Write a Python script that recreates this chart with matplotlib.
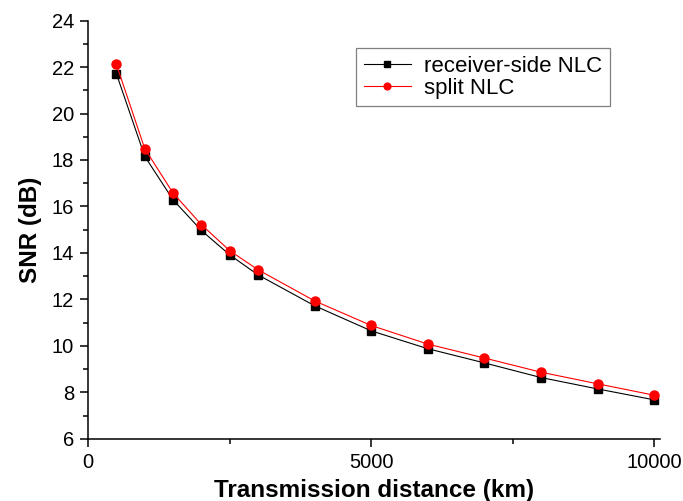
import numpy as np
import matplotlib
matplotlib.use("Agg")
from matplotlib import pyplot as plt
from matplotlib.ticker import MultipleLocator

plt.rcParams['font.family'] = ['Liberation Sans', 'DejaVu Sans']

# DATA
distance_km = [500, 1000, 1500, 2000, 2500, 3000, 4000, 5000, 6000, 7000, 8000, 9000, 10000]
snr_receiver = [21.71, 18.16, 16.29, 14.97, 13.92, 13.06, 11.73, 10.65, 9.88, 9.27, 8.64, 8.15, 7.68]
snr_split = [22.11, 18.49, 16.58, 15.22, 14.10, 13.28, 11.94, 10.88, 10.08, 9.48, 8.87, 8.37, 7.88]

fig = plt.figure(figsize=(6.83, 5.01), dpi=100)
ax = fig.add_axes([0.129, 0.124, 0.837, 0.835])

ax.plot(distance_km, snr_receiver, color='black', lw=0.8, marker='s',
        markersize=6, label='receiver-side NLC')
ax.plot(distance_km, snr_split, color='red', lw=0.8, marker='o',
        markersize=6.5, label='split NLC')

ax.set_xlim(0, 10100)
ax.set_ylim(6, 24)
ax.xaxis.set_major_locator(MultipleLocator(5000))
ax.xaxis.set_minor_locator(MultipleLocator(2500))
ax.yaxis.set_major_locator(MultipleLocator(2))
ax.yaxis.set_minor_locator(MultipleLocator(1))

# only left and bottom axis lines
ax.spines['top'].set_visible(False)
ax.spines['right'].set_visible(False)
for s in ('left', 'bottom'):
    ax.spines[s].set_linewidth(1.1)

ax.tick_params(which='major', direction='out', length=6, width=1.1, labelsize=14.5, pad=4)
ax.tick_params(which='minor', direction='out', length=3.5, width=1.1)

ax.set_xlabel('Transmission distance (km)', fontsize=17.5, fontweight='bold', labelpad=5)
ax.set_ylabel('SNR (dB)', fontsize=17.5, fontweight='bold', labelpad=7)

leg = ax.legend(loc='upper right', bbox_to_anchor=(0.913, 0.935), borderaxespad=0,
                fontsize=16, fancybox=False, edgecolor='gray', framealpha=1,
                handlelength=2.1, borderpad=0.35, labelspacing=0.05,
                handletextpad=0.6, markerscale=0.75)
leg.get_frame().set_linewidth(0.9)

fig.savefig('out.png', dpi=100)
